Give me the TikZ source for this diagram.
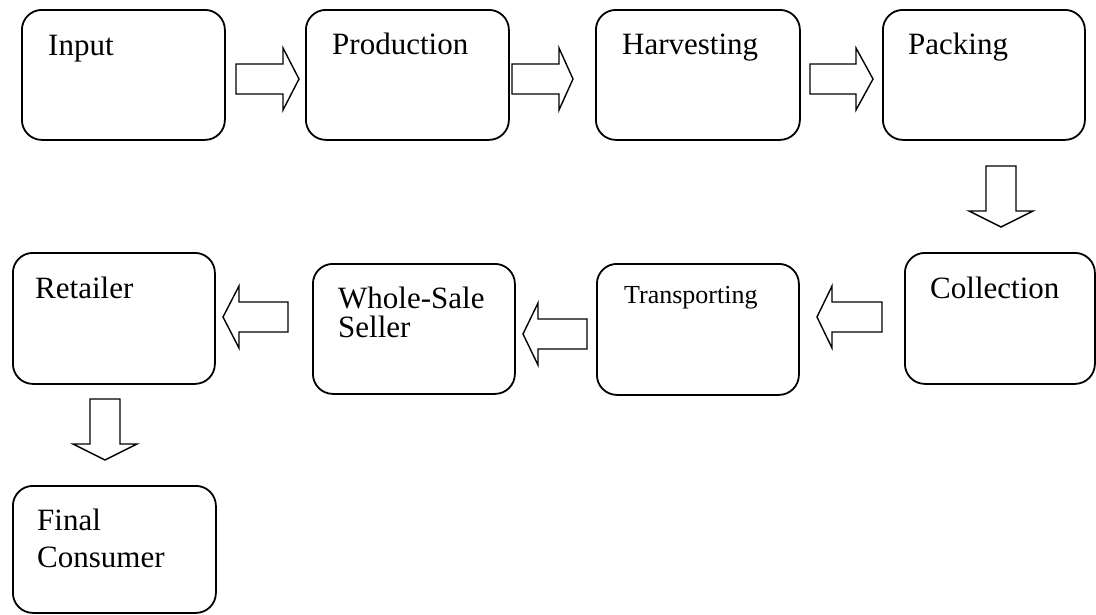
\documentclass[tikz,border=0pt]{standalone}
\usepackage{fontspec}
\setmainfont{Liberation Serif}
\newcommand\rarr[4]{\draw[blk] (#1,#4-15) -- (#2,#4-15) -- (#2,#4-31) -- (#3,#4) -- (#2,#4+31) -- (#2,#4+15) -- (#1,#4+15) -- cycle;}
\newcommand\darr[4]{\draw[blk] (#1-15,#2) -- (#1-15,#3) -- (#1-32,#3) -- (#1,#4) -- (#1+32,#3) -- (#1+15,#3) -- (#1+15,#2) -- cycle;}
\begin{document}
\begin{tikzpicture}[x=1pt,y=-1pt,
  box/.style={draw, line width=1.8pt, rounded corners=20pt, inner sep=0pt, anchor=north west},
  lbl/.style={anchor=base west, inner sep=0pt, font=\fontsize{31}{37}\selectfont},
  blk/.style={draw, line width=1.4pt, line join=miter, fill=white}]
\useasboundingbox (0,0) rectangle (1096,614);
% boxes
\node[box, minimum width=203pt, minimum height=130pt] (input) at (21,9) {};
\node[box, minimum width=203pt, minimum height=130pt] (production) at (305,9) {};
\node[box, minimum width=204pt, minimum height=130pt] (harvesting) at (595,9) {};
\node[box, minimum width=202pt, minimum height=130pt] (packing) at (882,9) {};
\node[box, minimum width=202pt, minimum height=131pt] (retailer) at (12,252) {};
\node[box, minimum width=202pt, minimum height=130pt] (wholesale) at (312,263) {};
\node[box, minimum width=202pt, minimum height=131pt] (transporting) at (596,263) {};
\node[box, minimum width=190pt, minimum height=131pt] (collection) at (904,252) {};
\node[box, minimum width=203pt, minimum height=127pt] (final) at (12,485) {};
% labels
\node[lbl] (t-input) at (48,55) {Input};
\node[lbl] (t-production) at (332,54) {Production};
\node[lbl] (t-harvesting) at (622,54) {Harvesting};
\node[lbl] (t-packing) at (908,54) {Packing};
\node[lbl] (t-retailer) at (35,298) {Retailer};
\node[lbl] (t-wholesale1) at (338,308) {Whole-Sale};
\node[lbl] (t-wholesale2) at (338,337) {Seller};
\node[lbl, font=\fontsize{26}{30}\selectfont] (t-transporting) at (624,303) {Transporting};
\node[lbl] (t-collection) at (930,298) {Collection};
\node[lbl] (t-final1) at (37,530) {Final};
\node[lbl] (t-final2) at (37,567) {Consumer};
% block arrows
\rarr{236}{283}{299}{79}
\rarr{512}{559}{573}{79}
\rarr{810}{856}{873}{79}
\darr{1001}{166}{211}{227}
\rarr{882}{832}{817}{317}
\rarr{587}{538}{523}{334}
\rarr{288}{239}{223}{317}
\darr{105}{399}{444}{460}
\end{tikzpicture}
\end{document}
